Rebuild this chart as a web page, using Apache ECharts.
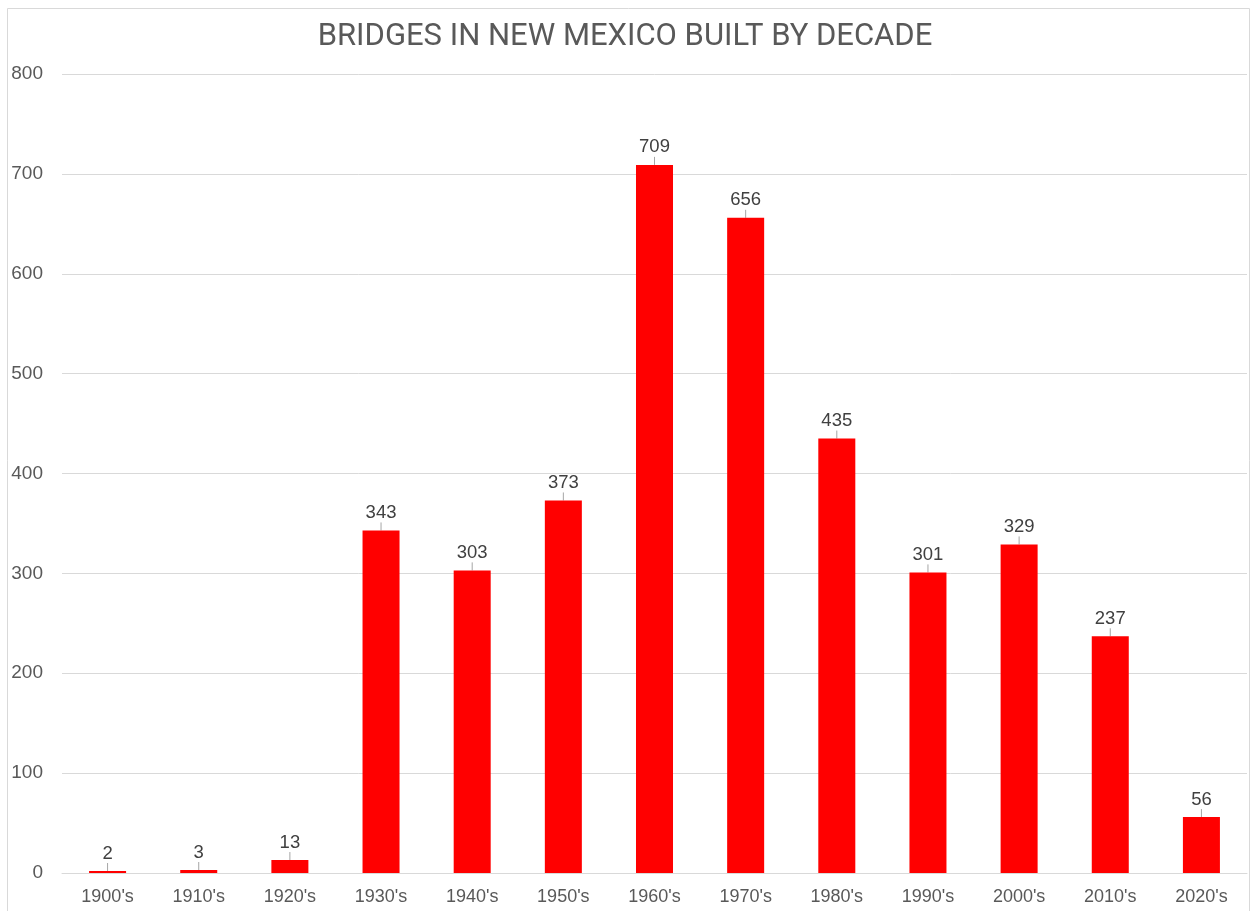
<!DOCTYPE html>
<html>
<head>
<meta charset="utf-8">
<script src="https://cdn.jsdelivr.net/npm/echarts@6/dist/echarts.min.js"></script>
<style>
html,body{margin:0;padding:0;background:#fff;}
#chart{width:1250px;height:911px;}
</style>
</head>
<body>
<div id="chart"></div>
<script>
const titleText = "BRIDGES IN NEW MEXICO BUILT BY DECADE";
const categories = ["1900's","1910's","1920's","1930's","1940's","1950's","1960's","1970's","1980's","1990's","2000's","2010's","2020's"];
const bridges = [2,3,13,343,303,373,709,656,435,301,329,237,56];
const yTicks = {min:0, max:800, interval:100};

const chart = echarts.init(document.getElementById('chart'), null, {renderer:'canvas'});
chart.setOption({
  animation:false,
  backgroundColor:'#ffffff',
  graphic:[{
    type:'rect', silent:true, z:-1,
    shape:{x:7.5, y:8.5, width:1242, height:912},
    style:{fill:'none', stroke:'#d9d9d9', lineWidth:1}
  }],
  title:{
    text:titleText, left:'center', top:17,
    textStyle:{fontFamily:'Roboto, sans-serif', fontSize:31, fontWeight:'normal', color:'#595959'}
  },
  grid:{left:62, right:3, top:74, bottom:38, containLabel:false},
  xAxis:{
    type:'category', data:categories,
    axisLine:{show:true, lineStyle:{color:'#d9d9d9'}},
    axisTick:{show:false},
    axisLabel:{color:'#595959', fontSize:18, fontFamily:'Liberation Sans, Arial, sans-serif', margin:15}
  },
  yAxis:{
    type:'value', min:yTicks.min, max:yTicks.max, interval:yTicks.interval,
    axisLine:{show:false}, axisTick:{show:false},
    splitLine:{lineStyle:{color:'#d9d9d9'}},
    axisLabel:{color:'#595959', fontSize:19, fontFamily:'Liberation Sans, Arial, sans-serif', margin:19}
  },
  series:[{
    type:'bar', data:bridges, barWidth:'40.6%',
    itemStyle:{color:'#ff0000'},
    label:{show:true, position:'top', distance:3, color:'#404040', fontSize:18.5, fontFamily:'Liberation Sans, Arial, sans-serif'},
    labelLayout:{dy:-5},
    labelLine:{show:true, lineStyle:{color:'#a6a6a6', width:1}}
  }]
});
</script>
</body>
</html>
